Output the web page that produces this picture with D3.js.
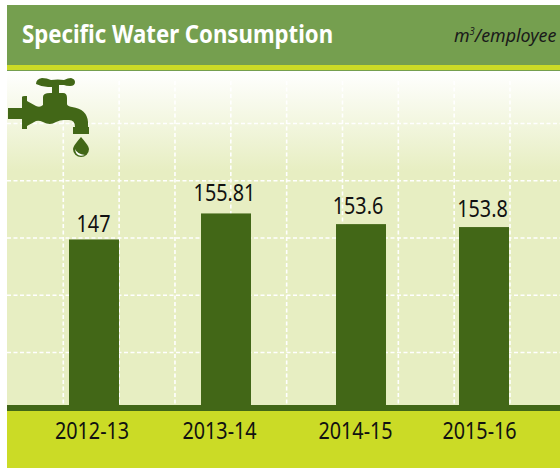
<!DOCTYPE html>
<html><head><meta charset="utf-8">
<style>html,body{margin:0;padding:0;background:#fff}svg{display:block}</style>
<script src="https://cdn.jsdelivr.net/npm/d3@7/dist/d3.min.js"></script>
</head><body><div id="c"></div>
<script>
const categories = ["2012-13","2013-14","2014-15","2015-16"];
// printed labels, as they appear in the picture
const valueLabels = ["147","155.81","153.6","153.8"];
// bar heights (the drawn bars do not follow the printed numbers exactly)
const barValues = [147,155.81,152.2,151.2];
const gridCols = [0,1,2,3,4,5,6,7,8];
const gridRows = [0,1,2,3,4];
const title = "Specific Water Consumption";

const svg = d3.select("#c").append("svg").attr("width",560).attr("height",468);
const defs = svg.append("defs");
const g = defs.append("linearGradient").attr("id","bg").attr("x1",0).attr("x2",0).attr("y1",0).attr("y2",1);
g.append("stop").attr("offset","0").attr("stop-color","#ffffff");
g.append("stop").attr("offset","1").attr("stop-color","#e7eec2");

const left=7, plotTop=71, plotBot=405;
const y = d3.scaleLinear().domain([91,204]).range([plotBot,plotTop]);
const xCenter = d3.scaleOrdinal().domain(categories).range([94,226,361,484]);
const tickCenter = d3.scaleOrdinal().domain(categories).range([92,219.5,355.5,479.5]);
const labelCenter = d3.scaleOrdinal().domain(categories).range([93.5,224.5,358,482.5]);
const labelGap = d3.scaleOrdinal().domain(categories).range([7,12,10,10]);
const gx = d3.scaleLinear().domain([0,8]).range([63.3,510]);
const gy = d3.scaleLinear().domain([0,4]).range([123.5,352.5]);

svg.append("rect").attr("x",left).attr("y",plotTop).attr("width",560-left).attr("height",100).attr("fill","url(#bg)");
svg.append("rect").attr("x",left).attr("y",171).attr("width",560-left).attr("height",234).attr("fill","#e7eec2");

const grid = svg.append("g").attr("stroke","#fff").attr("stroke-width",1.6).attr("stroke-dasharray","4 2.5");
grid.selectAll(".v").data(gridCols).join("line").attr("x1",gx).attr("x2",gx).attr("y1",plotTop+10).attr("y2",plotBot);
grid.selectAll(".h").data(gridRows).join("line").attr("x1",left).attr("x2",560).attr("y1",gy).attr("y2",gy);

svg.append("rect").attr("x",left).attr("y",5).attr("width",553).attr("height",60).attr("fill","#759f4f");
svg.append("rect").attr("x",left).attr("y",65).attr("width",553).attr("height",5).attr("fill","#cbdb26");
svg.append("rect").attr("x",left).attr("y",70).attr("width",553).attr("height",1).attr("fill","#759f4f");

svg.selectAll(".bar").data(categories).join("rect")
  .attr("x",c=>xCenter(c)-25).attr("width",50)
  .attr("y",(c,i)=>y(barValues[i])).attr("height",(c,i)=>plotBot-y(barValues[i])).attr("fill","#426717");

svg.append("rect").attr("x",left).attr("y",411).attr("width",553).attr("height",57).attr("fill","#cbdb26");
svg.append("rect").attr("x",left).attr("y",405).attr("width",553).attr("height",6).attr("fill","#426717");

const font = "'Noto Sans'";
function squeezed(text,x,base,size,sx,anchor,fill,weight,style){
  return svg.append("text").attr("transform",`translate(${x},${base}) scale(${sx},1)`)
    .attr("text-anchor",anchor).attr("font-family",font).attr("font-size",size)
    .attr("font-weight",weight||400).attr("font-style",style||"normal").attr("fill",fill).text(text);
}
squeezed(title,22,42.5,25,0.888,"start","#fff",700);
const u = squeezed("m",454,42,19,0.94,"start","#1a1a1a",400,"italic");
u.append("tspan").attr("font-size",10).attr("dy",-7).text("3");
u.append("tspan").attr("dy",7).text("/employee");

categories.forEach((c,i)=>{
  squeezed(c,tickCenter(c),439,23,0.86,"middle","#111");
  squeezed(valueLabels[i],labelCenter(c),y(barValues[i])-labelGap(c),23,0.86,"middle","#111");
});

// tap icon
const icon = svg.append("g").attr("fill","#426717");
icon.append("path").attr("d","M8 108 H22 V97 Q22 96 25 96 H27 V101 L36 106 Q40 108 43 105 V97 Q43 93 50 93 H52 V87 H48 Q42 87 36 84 Q36 79 42 78 Q47 78 51 80 Q58 79 64 80 Q68 78 71 78 Q75 79 75 82 Q75 86 70 86 Q66 86 64 85 H59 V93 H63 Q67 93 67 98 V104 Q67 106 72 107 Q87 109 88 122 V127 H89 V134 H73 V127 H75 Q75 120 69 120 H64 Q60 120 56 122 Q50 126 43 122 Q39 120 36 121 L27 126 V129 H22 V119 H8 Z");
icon.append("path").attr("d","M81 137 Q89 146 89 149 A8 8 0 0 1 73 149 Q73 146 81 137 Z");
svg.append("path").attr("d","M75 149 Q77 154 85 155 Q76 158 75 149 Z").attr("fill","#fff");
</script></body></html>
